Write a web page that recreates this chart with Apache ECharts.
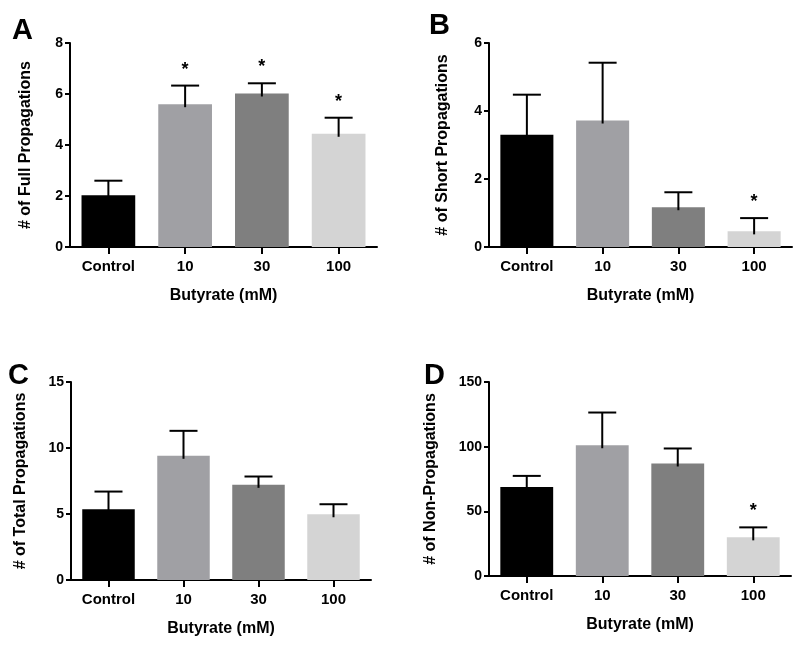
<!DOCTYPE html>
<html>
<head>
<meta charset="utf-8">
<script src="https://cdn.jsdelivr.net/npm/echarts@6/dist/echarts.min.js"></script>
<style>
html,body{margin:0;padding:0;background:#fff;}
#chart{width:800px;height:645px;}
</style>
</head>
<body>
<div id="chart"></div>
<script>
// ---- Data ----
var categories = ['Control', '10', '30', '100'];

var fullMean = [2.03, 5.6, 6.02, 4.44];
var fullErr  = [0.57, 0.73, 0.40, 0.63];
var fullSig  = [0, 1, 1, 1];

var shortMean = [3.30, 3.72, 1.17, 0.46];
var shortErr  = [1.18, 1.70, 0.44, 0.39];
var shortSig  = [0, 0, 0, 1];

var totalMean = [5.36, 9.41, 7.21, 4.98];
var totalErr  = [1.34, 1.89, 0.63, 0.76];
var totalSig  = [0, 0, 0, 0];

var nonMean = [68.9, 101.1, 87.0, 29.9];
var nonErr  = [8.5, 25.3, 11.6, 7.7];
var nonSig  = [0, 0, 0, 1];

var panelLetters = ['A', 'B', 'C', 'D'];
var yNames = ['# of Full Propagations', '# of Short Propagations', '# of Total Propagations', '# of Non-Propagations'];
var xName = 'Butyrate (mM)';
var yMax = [8, 6, 15, 150];
var yInterval = [2, 2, 5, 50];

// ---- Styles ----
var barColors = ['#000000', '#a0a0a4', '#7f7f7f', '#d4d4d4'];
var FONT = 'Liberation Sans, Arial, sans-serif';

var grids = [
  {left: 70, top: 43, width: 307, height: 204},
  {left: 489, top: 43, width: 303, height: 204},
  {left: 71, top: 382, width: 300, height: 198},
  {left: 489, top: 382, width: 302, height: 194}
];
var nameGaps = [36, 38, 42, 50];
var letterPos = [[12, 16], [429, 11], [8, 361], [424, 361]];

var means = [fullMean, shortMean, totalMean, nonMean];
var errs = [fullErr, shortErr, totalErr, nonErr];
var sigs = [fullSig, shortSig, totalSig, nonSig];

var xAxes = [], yAxes = [], series = [], graphics = [];

for (var g = 0; g < 4; g++) {
  xAxes.push({
    type: 'category', gridIndex: g, data: categories,
    name: xName, nameLocation: 'middle', nameGap: 41,
    nameTextStyle: {fontFamily: FONT, fontWeight: 'bold', fontSize: 16, color: '#000'},
    axisLine: {show: true, lineStyle: {color: '#000', width: 2}},
    axisTick: {show: true, alignWithLabel: true, length: 7, lineStyle: {color: '#000', width: 2}},
    axisLabel: {fontFamily: FONT, fontWeight: 'bold', fontSize: 15, color: '#000', margin: 12},
    splitLine: {show: false}
  });
  yAxes.push({
    type: 'value', gridIndex: g, min: 0, max: yMax[g], interval: yInterval[g],
    name: yNames[g], nameLocation: 'middle', nameGap: nameGaps[g], nameRotate: 90,
    nameTextStyle: {fontFamily: FONT, fontWeight: 'bold', fontSize: 16, color: '#000'},
    axisLine: {show: true, lineStyle: {color: '#000', width: 2}},
    axisTick: {show: true, length: 5, lineStyle: {color: '#000', width: 2}},
    axisLabel: {fontFamily: FONT, fontWeight: 'bold', fontSize: 14, color: '#000', margin: 7},
    splitLine: {show: false}
  });
  var barData = means[g].map(function (v, i) {
    return {value: v, itemStyle: {color: barColors[i]}};
  });
  series.push({
    type: 'bar', xAxisIndex: g, yAxisIndex: g, data: barData,
    barWidth: '70%', silent: true, animation: false, z: 2
  });
  var errData = means[g].map(function (v, i) { return [i, v, errs[g][i], sigs[g][i]]; });
  series.push({
    type: 'custom', xAxisIndex: g, yAxisIndex: g, data: errData, animation: false, silent: true, z: 3,
    renderItem: function (params, api) {
      var idx = api.value(0), m = api.value(1), e = api.value(2), s = api.value(3);
      var p0 = api.coord([idx, m]);
      var p1 = api.coord([idx, m + e]);
      var half = 14;
      var children = [
        {type: 'line', shape: {x1: p0[0], y1: p0[1] + 3, x2: p1[0], y2: p1[1]}, style: {stroke: '#000', lineWidth: 2}},
        {type: 'line', shape: {x1: p1[0] - half, y1: p1[1], x2: p1[0] + half, y2: p1[1]}, style: {stroke: '#000', lineWidth: 2}}
      ];
      if (s) {
        children.push({type: 'text', style: {text: '*', x: p1[0], y: p1[1] - 16, textAlign: 'center', textVerticalAlign: 'middle', font: 'bold 18px ' + FONT, fill: '#000'}});
      }
      return {type: 'group', children: children};
    }
  });
  graphics.push({
    type: 'text', left: letterPos[g][0], top: letterPos[g][1],
    style: {text: panelLetters[g], font: 'bold 29px ' + FONT, fill: '#000'}
  });
}

var chart = echarts.init(document.getElementById('chart'));
chart.setOption({
  animation: false,
  backgroundColor: '#fff',
  grid: grids,
  xAxis: xAxes,
  yAxis: yAxes,
  series: series,
  graphic: graphics
});
</script>
</body>
</html>
